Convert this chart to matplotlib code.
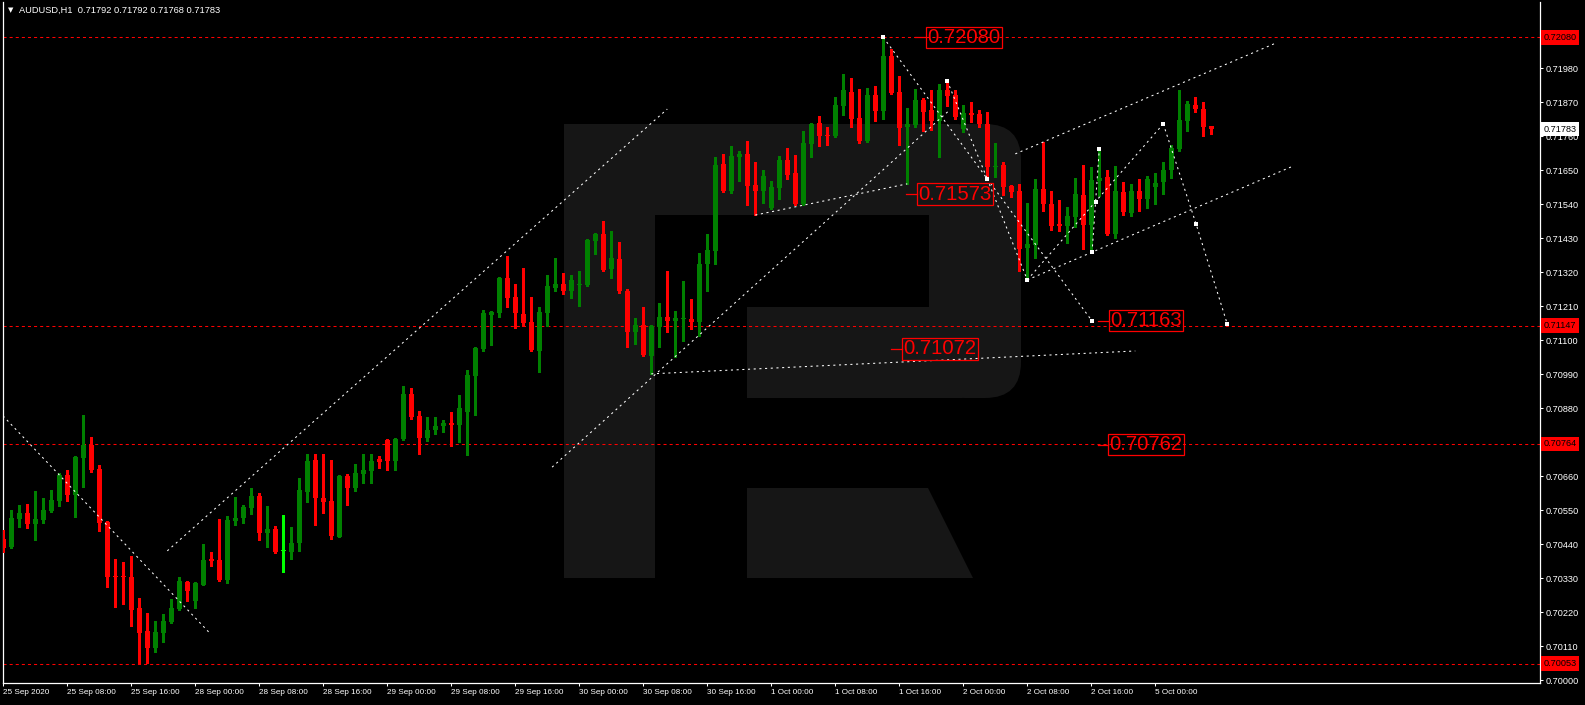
import matplotlib
matplotlib.use('Agg')
import matplotlib.pyplot as plt
from matplotlib.patches import Rectangle, Polygon, FancyBboxPatch
from matplotlib.transforms import Affine2D, blended_transform_factory
import numpy as np

plt.rcParams['lines.scale_dashes'] = False
plt.rcParams['font.family'] = ['Liberation Sans', 'DejaVu Sans']

title = "AUDUSD,H1  0.71792 0.71792 0.71768 0.71783"

# H1 bars, 25 Sep 2020 00:00 .. 5 Oct 2020 07:00
opens = [0.70455, 0.70431, 0.70522, 0.70541, 0.70506, 0.70519, 0.70547, 0.70580, 0.70664, 0.70599,
         0.70719, 0.70761, 0.70683, 0.70511, 0.70338, 0.70336, 0.70333, 0.70233, 0.70159, 0.70104,
         0.70152, 0.70188, 0.70230, 0.70317, 0.70256, 0.70308, 0.70392, 0.70388, 0.70324, 0.70516,
         0.70524, 0.70557, 0.70596, 0.70476, 0.70489, 0.70418, 0.70414, 0.70443, 0.70609, 0.70712,
         0.70589, 0.70579, 0.70463, 0.70660, 0.70622, 0.70667, 0.70677, 0.70715, 0.70777, 0.70709,
         0.70780, 0.70926, 0.70855, 0.70783, 0.70809, 0.70822, 0.70832, 0.70825, 0.70868, 0.70984,
         0.71071, 0.71182, 0.71188, 0.71301, 0.71240, 0.71185, 0.71159, 0.71065, 0.71188, 0.71269,
         0.71282, 0.71259, 0.71279, 0.71279, 0.71421, 0.71444, 0.71330, 0.71363, 0.71259, 0.71126,
         0.71149, 0.71049, 0.71143, 0.71175, 0.71162, 0.71169, 0.71169, 0.71159, 0.71347, 0.71389,
         0.71670, 0.71583, 0.71693, 0.71703, 0.71602, 0.71583, 0.71528, 0.71593, 0.71683, 0.71641,
         0.71541, 0.71735, 0.71803, 0.71764, 0.71761, 0.71858, 0.71903, 0.71819, 0.71745, 0.71894,
         0.71842, 0.72020, 0.71903, 0.71790, 0.71797, 0.71877, 0.71845, 0.71810, 0.71910, 0.71894,
         0.71784, 0.71835, 0.71832, 0.71800, 0.71661, 0.71667, 0.71599, 0.71583, 0.71398, 0.71408,
         0.71589, 0.71541, 0.71476, 0.71470, 0.71499, 0.71570, 0.71473, 0.71615, 0.71628, 0.71444,
         0.71580, 0.71512, 0.71583, 0.71557, 0.71596, 0.71612, 0.71651, 0.71719, 0.71810, 0.71861,
         0.71848, 0.71792]
highs = [0.70486, 0.70550, 0.70566, 0.70570, 0.70612, 0.70589, 0.70615, 0.70670, 0.70680, 0.70725,
         0.70858, 0.70787, 0.70696, 0.70515, 0.70392, 0.70382, 0.70401, 0.70265, 0.70217, 0.70191,
         0.70214, 0.70262, 0.70333, 0.70320, 0.70317, 0.70440, 0.70414, 0.70521, 0.70531, 0.70592,
         0.70566, 0.70622, 0.70605, 0.70563, 0.70499, 0.70534, 0.70495, 0.70654, 0.70732, 0.70732,
         0.70732, 0.70712, 0.70664, 0.70667, 0.70699, 0.70732, 0.70732, 0.70725, 0.70780, 0.70783,
         0.70952, 0.70945, 0.70871, 0.70851, 0.70851, 0.70842, 0.70868, 0.70923, 0.71003, 0.71078,
         0.71198, 0.71194, 0.71303, 0.71372, 0.71282, 0.71334, 0.71240, 0.71207, 0.71311, 0.71366,
         0.71317, 0.71311, 0.71324, 0.71427, 0.71447, 0.71486, 0.71453, 0.71418, 0.71266, 0.71172,
         0.71207, 0.71149, 0.71220, 0.71324, 0.71194, 0.71292, 0.71233, 0.71382, 0.71444, 0.71693,
         0.71703, 0.71729, 0.71712, 0.71745, 0.71677, 0.71651, 0.71615, 0.71696, 0.71722, 0.71699,
         0.71777, 0.71803, 0.71826, 0.71790, 0.71887, 0.71962, 0.71949, 0.71913, 0.71916, 0.71923,
         0.72080, 0.72043, 0.71955, 0.71852, 0.71913, 0.71884, 0.71910, 0.71929, 0.71942, 0.71910,
         0.71861, 0.71871, 0.71845, 0.71839, 0.71738, 0.71677, 0.71602, 0.71606, 0.71544, 0.71622,
         0.71742, 0.71583, 0.71554, 0.71531, 0.71625, 0.71667, 0.71661, 0.71716, 0.71651, 0.71664,
         0.71612, 0.71606, 0.71622, 0.71631, 0.71641, 0.71677, 0.71732, 0.71910, 0.71874, 0.71887,
         0.71871, 0.71792]
lows = [0.70415, 0.70428, 0.70495, 0.70493, 0.70454, 0.70509, 0.70544, 0.70563, 0.70580, 0.70528,
        0.70625, 0.70674, 0.70482, 0.70301, 0.70236, 0.70246, 0.70175, 0.70053, 0.70055, 0.70091,
        0.70123, 0.70185, 0.70227, 0.70256, 0.70233, 0.70308, 0.70369, 0.70320, 0.70314, 0.70502,
        0.70508, 0.70537, 0.70453, 0.70431, 0.70411, 0.70350, 0.70392, 0.70418, 0.70576, 0.70502,
        0.70541, 0.70456, 0.70463, 0.70566, 0.70612, 0.70638, 0.70638, 0.70686, 0.70680, 0.70680,
        0.70777, 0.70845, 0.70732, 0.70774, 0.70796, 0.70803, 0.70757, 0.70770, 0.70728, 0.70858,
        0.71065, 0.71084, 0.71175, 0.71207, 0.71139, 0.71146, 0.71065, 0.70997, 0.71146, 0.71259,
        0.71249, 0.71236, 0.71211, 0.71275, 0.71379, 0.71324, 0.71301, 0.71253, 0.71078, 0.71088,
        0.71049, 0.70991, 0.71078, 0.71126, 0.71046, 0.71097, 0.71136, 0.71114, 0.71259, 0.71347,
        0.71580, 0.71576, 0.71615, 0.71538, 0.71505, 0.71544, 0.71525, 0.71557, 0.71622, 0.71538,
        0.71538, 0.71693, 0.71729, 0.71732, 0.71758, 0.71829, 0.71790, 0.71738, 0.71742, 0.71810,
        0.71816, 0.71897, 0.71732, 0.71606, 0.71790, 0.71777, 0.71780, 0.71693, 0.71858, 0.71816,
        0.71774, 0.71806, 0.71790, 0.71628, 0.71628, 0.71570, 0.71564, 0.71324, 0.71295, 0.71366,
        0.71518, 0.71457, 0.71453, 0.71415, 0.71466, 0.71395, 0.71385, 0.71567, 0.71441, 0.71431,
        0.71505, 0.71502, 0.71518, 0.71528, 0.71541, 0.71573, 0.71625, 0.71712, 0.71777, 0.71839,
        0.71761, 0.71768]
closes = [0.70428, 0.70524, 0.70541, 0.70506, 0.70521, 0.70550, 0.70583, 0.70664, 0.70599, 0.70722,
          0.70761, 0.70680, 0.70508, 0.70333, 0.70335, 0.70333, 0.70227, 0.70152, 0.70104, 0.70155,
          0.70191, 0.70233, 0.70320, 0.70288, 0.70314, 0.70388, 0.70385, 0.70324, 0.70518, 0.70524,
          0.70560, 0.70596, 0.70476, 0.70489, 0.70414, 0.70418, 0.70443, 0.70615, 0.70709, 0.70589,
          0.70576, 0.70466, 0.70660, 0.70622, 0.70670, 0.70680, 0.70709, 0.70706, 0.70709, 0.70780,
          0.70926, 0.70851, 0.70783, 0.70809, 0.70822, 0.70832, 0.70825, 0.70880, 0.70987, 0.71075,
          0.71188, 0.71191, 0.71301, 0.71236, 0.71188, 0.71156, 0.71068, 0.71191, 0.71275, 0.71282,
          0.71259, 0.71295, 0.71282, 0.71424, 0.71444, 0.71327, 0.71366, 0.71259, 0.71126, 0.71149,
          0.71052, 0.71146, 0.71175, 0.71162, 0.71172, 0.71172, 0.71159, 0.71347, 0.71392, 0.71667,
          0.71583, 0.71696, 0.71703, 0.71599, 0.71583, 0.71631, 0.71596, 0.71683, 0.71635, 0.71541,
          0.71738, 0.71800, 0.71761, 0.71761, 0.71861, 0.71910, 0.71816, 0.71745, 0.71894, 0.71842,
          0.72020, 0.71900, 0.71787, 0.71800, 0.71877, 0.71839, 0.71810, 0.71910, 0.71890, 0.71822,
          0.71835, 0.71829, 0.71800, 0.71661, 0.71664, 0.71596, 0.71580, 0.71395, 0.71411, 0.71589,
          0.71541, 0.71470, 0.71470, 0.71502, 0.71573, 0.71473, 0.71619, 0.71625, 0.71444, 0.71583,
          0.71515, 0.71583, 0.71557, 0.71622, 0.71609, 0.71651, 0.71722, 0.71813, 0.71865, 0.71848,
          0.71790, 0.71783]

time_labels = ["25 Sep 2020", "25 Sep 08:00", "25 Sep 16:00", "28 Sep 00:00", "28 Sep 08:00",
               "28 Sep 16:00", "29 Sep 00:00", "29 Sep 08:00", "29 Sep 16:00", "30 Sep 00:00",
               "30 Sep 08:00", "30 Sep 16:00", "1 Oct 00:00", "1 Oct 08:00", "1 Oct 16:00",
               "2 Oct 00:00", "2 Oct 08:00", "2 Oct 16:00", "5 Oct 00:00"]
time_label_bars = [0, 8, 16, 24, 32, 40, 48, 56, 64, 72, 80, 88, 96, 104, 112, 120, 128, 136, 144]

price_ticks = [0.70000, 0.70110, 0.70220, 0.70330, 0.70440, 0.70550, 0.70660, 0.70770, 0.70880,
               0.70990, 0.71100, 0.71210, 0.71320, 0.71430, 0.71540, 0.71650, 0.71760, 0.71870,
               0.71980, 0.72090]

level_prices = [0.72080, 0.71147, 0.70764, 0.70053]
current_price = 0.71783

# analyst drawing: dotted trend / forecast lines as (bar, price) points
trend_lines = [
    [(-0.04, 0.70855), (25.8, 0.70152)],
    [(20.5, 0.70418), (83.0, 0.71848)],
    [(68.6, 0.70689), (118.3, 0.71845)],
    [(94.0, 0.71505), (113.0, 0.71606)],
    [(81.0, 0.70991), (141.5, 0.71065)],
    [(110.0, 0.72080), (123.0, 0.71622)],
    [(118.0, 0.71939), (123.0, 0.71622)],
    [(123.0, 0.71622), (136.1, 0.71162)],
    [(123.0, 0.71622), (128.0, 0.71295)],
    [(128.0, 0.71295), (145.0, 0.71800)],
    [(136.1, 0.71385), (137.0, 0.71719)],
    [(145.0, 0.71800), (149.1, 0.71476), (153.0, 0.71152)],
    [(126.5, 0.71703), (159.1, 0.72062)],
    [(128.0, 0.71295), (161.0, 0.71661)],
]
anchor_points = [(110.0, 0.72080), (118.0, 0.71939), (123.0, 0.71622), (128.0, 0.71295),
                 (136.1, 0.71385), (136.6, 0.71547), (137.0, 0.71719), (145.0, 0.71800),
                 (149.1, 0.71476), (153.0, 0.71152), (136.1, 0.71162)]

# boxed red level captions: text, bar where the text starts, price
level_captions = [("0.72080", 115.5, 0.72080), ("0.71573", 114.4, 0.71573),
                  ("0.71163", 138.4, 0.71163), ("0.71072", 112.5, 0.71072),
                  ("0.70762", 138.3, 0.70762)]

W, H = 1585, 705
fig = plt.figure(figsize=(W / 100, H / 100), dpi=100, facecolor='black')
ax = fig.add_axes([3 / W, 22 / H, 1537 / W, 681 / H], facecolor='black')
ax.set_xlim(-0.0375, 192.09)
ax.set_ylim(0.699903, 0.721946)

# watermark logo, drawn in pixel space (y down)
px = Affine2D().scale(1, -1).translate(0, H)
wm = '#161616'
for patch in [Rectangle((564, 124), 91, 454),
              Rectangle((564, 124), 395, 91),
              FancyBboxPatch((929, 124), 92, 274, boxstyle='round,pad=0,rounding_size=36'),
              Rectangle((747, 307), 215, 91),
              Polygon([(747, 488), (928, 488), (973, 578), (747, 578)])]:
    patch.set_transform(px)
    patch.set_facecolor(wm)
    patch.set_edgecolor('none')
    patch.set_zorder(0)
    ax.add_patch(patch)

# candles
o, h, l, c = map(np.array, (opens, highs, lows, closes))
x = np.arange(len(o))
cols = np.where(c > o, '#008000', np.where(c < o, '#ff0000', '#00ff00'))
ax.vlines(x, l, h, colors=cols, lw=0.75, antialiased=False, zorder=3)
body_h = np.maximum(np.abs(c - o), 0.00003)
ax.bar(x, body_h, 0.62, bottom=np.minimum(o, c), color=cols, linewidth=0,
       antialiased=False, zorder=3)

# horizontal levels
for lv in level_prices:
    ax.axhline(lv, color='#ff0000', lw=0.75, ls=(0, (2.2, 2.2)), zorder=2)

# trend lines
for seg in trend_lines:
    xs, ys = zip(*seg)
    ax.plot(xs, ys, color='white', lw=0.75, ls=(0, (1.5, 2.6)), zorder=4)
ax_x, ax_y = zip(*anchor_points)
ax.plot(ax_x, ax_y, 's', color='white', ms=3.2, mew=0, zorder=5)

for txt, bx, pr in level_captions:
    ax.text(bx, pr, txt, color='#ff0000', fontsize=14.6, ha='left', va='center',
            zorder=6, bbox=dict(boxstyle='square,pad=0.06', fc='none', ec='#ff0000', lw=0.9))
    ax.plot([bx - 1.5, bx - 0.2], [pr, pr], color='#ff0000', lw=0.9, zorder=6)

# axes styling
for s in ['left', 'right', 'bottom']:
    ax.spines[s].set_color('white')
    ax.spines[s].set_linewidth(0.9)
ax.spines['top'].set_visible(False)

ax.yaxis.tick_right()
ax.set_yticks(price_ticks)
ax.set_yticklabels([f"{t:.5f}" for t in price_ticks])
ax.tick_params(axis='y', colors='white', labelsize=6.6, length=2.5, width=0.75, pad=1.5)
ax.set_xticks(time_label_bars)
ax.set_xticklabels(time_labels)
ax.tick_params(axis='x', colors='white', labelsize=5.9, length=2.5, width=0.75, pad=1.6)
for lab in ax.get_xticklabels():
    lab.set_ha('left')

# price tags on the right scale
tag_tr = blended_transform_factory(ax.transAxes, ax.transData)
for lv in level_prices:
    ax.text(1.0022, lv, f"{lv:.5f}", transform=tag_tr, color='black', fontsize=6.6,
            ha='left', va='center', clip_on=False, zorder=10,
            bbox=dict(boxstyle='square,pad=0.3', fc='#ff0000', ec='none'))
ax.text(1.0022, current_price, f"{current_price:.5f}", transform=tag_tr, color='black',
        fontsize=6.6, ha='left', va='center', clip_on=False, zorder=10,
        bbox=dict(boxstyle='square,pad=0.3', fc='white', ec='none'))

fig.text(8 / W, 1 - 10 / H, "\u25bc", color='white', fontsize=5, va='center', ha='left',
         family='DejaVu Sans')
fig.text(19 / W, 1 - 10 / H, title, color='white', fontsize=6.7, va='center', ha='left')

fig.savefig('out.png', dpi=100, facecolor='black')
